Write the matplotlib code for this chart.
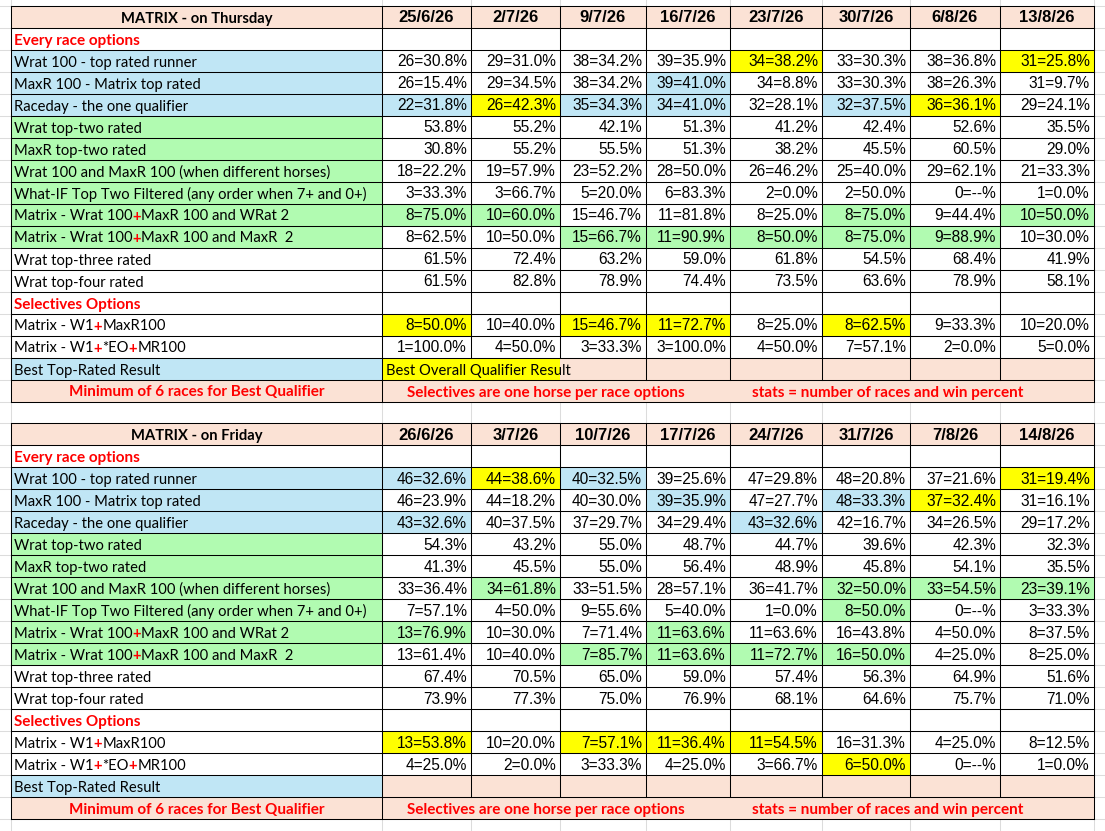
import matplotlib
matplotlib.use('Agg')
import matplotlib.pyplot as plt
from matplotlib.patches import Rectangle

# ---------------- data ----------------
thu_title = "MATRIX - on Thursday"
fri_title = "MATRIX - on Friday"
thu_dates = ["25/6/26", "2/7/26", "9/7/26", "16/7/26", "23/7/26", "30/7/26", "6/8/26", "13/8/26"]
fri_dates = ["26/6/26", "3/7/26", "10/7/26", "17/7/26", "24/7/26", "31/7/26", "7/8/26", "14/8/26"]

row_labels = [
    "Every race options",
    "Wrat 100 - top rated runner",
    "MaxR 100 - Matrix top rated",
    "Raceday - the one qualifier",
    "Wrat top-two rated",
    "MaxR top-two rated",
    "Wrat 100 and MaxR 100 (when different horses)",
    "What-IF Top Two Filtered (any order when 7+ and 0+)",
    "Matrix - Wrat 100+MaxR 100 and WRat 2",
    "Matrix - Wrat 100+MaxR 100 and MaxR  2",
    "Wrat top-three rated",
    "Wrat top-four rated",
    "Selectives Options",
    "Matrix - W1+MaxR100",
    "Matrix - W1+*EO+MR100",
    "Best Top-Rated Result",
]
section_rows = [0, 12]
footer_texts = ["Minimum of 6 races for Best Qualifier",
                "Selectives are one horse per race options",
                "stats = number of races and win percent"]
best_overall_text = "Best Overall Qualifier Result"

thu_wrat100 = ["26=30.8%", "29=31.0%", "38=34.2%", "39=35.9%", "34=38.2%", "33=30.3%", "38=36.8%", "31=25.8%"]
thu_maxr100 = ["26=15.4%", "29=34.5%", "38=34.2%", "39=41.0%", "34=8.8%", "33=30.3%", "38=26.3%", "31=9.7%"]
thu_raceday = ["22=31.8%", "26=42.3%", "35=34.3%", "34=41.0%", "32=28.1%", "32=37.5%", "36=36.1%", "29=24.1%"]
thu_wrat_top2 = ["53.8%", "55.2%", "42.1%", "51.3%", "41.2%", "42.4%", "52.6%", "35.5%"]
thu_maxr_top2 = ["30.8%", "55.2%", "55.5%", "51.3%", "38.2%", "45.5%", "60.5%", "29.0%"]
thu_both100 = ["18=22.2%", "19=57.9%", "23=52.2%", "28=50.0%", "26=46.2%", "25=40.0%", "29=62.1%", "21=33.3%"]
thu_whatif = ["3=33.3%", "3=66.7%", "5=20.0%", "6=83.3%", "2=0.0%", "2=50.0%", "0=--%", "1=0.0%"]
thu_mx_wrat2 = ["8=75.0%", "10=60.0%", "15=46.7%", "11=81.8%", "8=25.0%", "8=75.0%", "9=44.4%", "10=50.0%"]
thu_mx_maxr2 = ["8=62.5%", "10=50.0%", "15=66.7%", "11=90.9%", "8=50.0%", "8=75.0%", "9=88.9%", "10=30.0%"]
thu_top3 = ["61.5%", "72.4%", "63.2%", "59.0%", "61.8%", "54.5%", "68.4%", "41.9%"]
thu_top4 = ["61.5%", "82.8%", "78.9%", "74.4%", "73.5%", "63.6%", "78.9%", "58.1%"]
thu_w1_maxr = ["8=50.0%", "10=40.0%", "15=46.7%", "11=72.7%", "8=25.0%", "8=62.5%", "9=33.3%", "10=20.0%"]
thu_w1_eo = ["1=100.0%", "4=50.0%", "3=33.3%", "3=100.0%", "4=50.0%", "7=57.1%", "2=0.0%", "5=0.0%"]

fri_wrat100 = ["46=32.6%", "44=38.6%", "40=32.5%", "39=25.6%", "47=29.8%", "48=20.8%", "37=21.6%", "31=19.4%"]
fri_maxr100 = ["46=23.9%", "44=18.2%", "40=30.0%", "39=35.9%", "47=27.7%", "48=33.3%", "37=32.4%", "31=16.1%"]
fri_raceday = ["43=32.6%", "40=37.5%", "37=29.7%", "34=29.4%", "43=32.6%", "42=16.7%", "34=26.5%", "29=17.2%"]
fri_wrat_top2 = ["54.3%", "43.2%", "55.0%", "48.7%", "44.7%", "39.6%", "42.3%", "32.3%"]
fri_maxr_top2 = ["41.3%", "45.5%", "55.0%", "56.4%", "48.9%", "45.8%", "54.1%", "35.5%"]
fri_both100 = ["33=36.4%", "34=61.8%", "33=51.5%", "28=57.1%", "36=41.7%", "32=50.0%", "33=54.5%", "23=39.1%"]
fri_whatif = ["7=57.1%", "4=50.0%", "9=55.6%", "5=40.0%", "1=0.0%", "8=50.0%", "0=--%", "3=33.3%"]
fri_mx_wrat2 = ["13=76.9%", "10=30.0%", "7=71.4%", "11=63.6%", "11=63.6%", "16=43.8%", "4=50.0%", "8=37.5%"]
fri_mx_maxr2 = ["13=61.4%", "10=40.0%", "7=85.7%", "11=63.6%", "11=72.7%", "16=50.0%", "4=25.0%", "8=25.0%"]
fri_top3 = ["67.4%", "70.5%", "65.0%", "59.0%", "57.4%", "56.3%", "64.9%", "51.6%"]
fri_top4 = ["73.9%", "77.3%", "75.0%", "76.9%", "68.1%", "64.6%", "75.7%", "71.0%"]
fri_w1_maxr = ["13=53.8%", "10=20.0%", "7=57.1%", "11=36.4%", "11=54.5%", "16=31.3%", "4=25.0%", "8=12.5%"]
fri_w1_eo = ["4=25.0%", "2=0.0%", "3=33.3%", "4=25.0%", "3=66.7%", "6=50.0%", "0=--%", "1=0.0%"]

thu_values = [None, thu_wrat100, thu_maxr100, thu_raceday, thu_wrat_top2, thu_maxr_top2, thu_both100,
              thu_whatif, thu_mx_wrat2, thu_mx_maxr2, thu_top3, thu_top4, None, thu_w1_maxr, thu_w1_eo, None]
fri_values = [None, fri_wrat100, fri_maxr100, fri_raceday, fri_wrat_top2, fri_maxr_top2, fri_both100,
              fri_whatif, fri_mx_wrat2, fri_mx_maxr2, fri_top3, fri_top4, None, fri_w1_maxr, fri_w1_eo, None]

# highlighted cells: (row, column)
thu_yellow = [(1, 4), (1, 7), (3, 1), (3, 6), (13, 0), (13, 2), (13, 3), (13, 5)]
thu_blue = [(2, 3), (3, 0), (3, 2), (3, 3), (3, 5)]
thu_green = [(8, 0), (8, 1), (8, 5), (8, 7), (9, 2), (9, 3), (9, 4), (9, 5), (9, 6)]
fri_yellow = [(1, 1), (1, 7), (2, 6), (13, 0), (13, 2), (13, 3), (13, 4), (14, 5)]
fri_blue = [(1, 0), (1, 2), (2, 3), (2, 5), (3, 0), (3, 4)]
fri_green = [(6, 1), (6, 5), (6, 6), (6, 7), (7, 5), (8, 0), (8, 3), (9, 2), (9, 3), (9, 4), (9, 5)]

# ---------------- style ----------------
PEACH = "#FBE2D5"
BLUE = "#C0E6F5"
GREEN = "#B1FBB1"
YELLOW = "#FFFF00"
RED = "#FF0000"
GRID = "#DCDCDC"
label_fills = [None, BLUE, BLUE, BLUE, GREEN, GREEN, GREEN, GREEN, GREEN, GREEN,
               None, None, None, None, None, BLUE]

W, H = 1105, 831
fig = plt.figure(figsize=(W / 100, H / 100), dpi=100)
ax = fig.add_axes([0, 0, 1, 1])
ax.set_xlim(0, W)
ax.set_ylim(H, 0)
ax.axis('off')
fig.patch.set_facecolor('white')
renderer = fig.canvas.get_renderer()

LABEL_FONT = ['Lato', 'DejaVu Sans']
DATA_FONT = ['Liberation Sans', 'DejaVu Sans']


def text_width(s, **kw):
    t = ax.text(0, 0, s, **kw)
    w = t.get_window_extent(renderer=renderer).width
    t.remove()
    return w


base = 10.0
label_size = base * 351 / text_width(row_labels[7], family=LABEL_FONT, fontsize=base)
blabel_size = base * 257 / text_width(footer_texts[0], family=LABEL_FONT, fontsize=base, fontweight='bold')
data_size = 11.2
date_size = 12.0

col_edges = [10.7, 382, 471, 560, 646, 730, 822, 910, 1000, 1094]
ROW_H = 22.0
HEADER_H = 21.5
LW = 0.75

# spreadsheet gridlines
grid_rows = []
for y0 in (6.0, 423.3):
    grid_rows.append(y0)
    grid_rows.append(y0 + HEADER_H)
    for i in range(1, 18):
        grid_rows.append(y0 + HEADER_H + i * ROW_H)
for y in grid_rows:
    ax.plot([0, W], [y, y], color=GRID, lw=LW, zorder=0)
for x in col_edges:
    ax.plot([x, x], [0, H], color=GRID, lw=LW, zorder=0)


def rich(x, y, pieces, size):
    for txt, color, weight in pieces:
        t = ax.text(x, y, txt, color=color, fontweight=weight, fontsize=size,
                    family=LABEL_FONT, ha='left', va='baseline', zorder=5)
        x += t.get_window_extent(renderer=renderer).width


def label_pieces(s):
    if s.startswith("Matrix"):
        parts = s.split("+")
        out = []
        for k, p in enumerate(parts):
            if k:
                out.append(("+", RED, 'bold'))
            out.append((p, 'black', 'normal'))
        return out
    return [(s, 'black', 'normal')]


def rect(x0, x1, y0, y1, color):
    ax.add_patch(Rectangle((x0, y0), x1 - x0, y1 - y0, facecolor=color, edgecolor='none', zorder=1))


def draw_table(y0, title, dates, values, yellow, blue, green, best_merged):
    ncols = len(dates)
    left, right = col_edges[0], col_edges[-1]
    # header
    rect(left, right, y0, y0 + HEADER_H, PEACH)
    ax.text((col_edges[0] + col_edges[1]) / 2, y0 + HEADER_H - 5, title, family=LABEL_FONT,
            fontweight='bold', fontsize=label_size, ha='center', va='baseline', zorder=5)
    for c, d in enumerate(dates):
        ax.text((col_edges[c + 1] + col_edges[c + 2]) / 2, y0 + HEADER_H - 5, d, family=DATA_FONT,
                fontweight='bold', fontsize=date_size, ha='center', va='baseline', zorder=5)
    hlines = [y0, y0 + HEADER_H]
    vsegs = [(x, y0, y0 + HEADER_H) for x in col_edges]
    fills = {}
    for (r, c) in yellow:
        fills[(r, c)] = YELLOW
    for (r, c) in blue:
        fills[(r, c)] = BLUE
    for (r, c) in green:
        fills[(r, c)] = GREEN
    for i, lab in enumerate(row_labels):
        top = y0 + HEADER_H + i * ROW_H
        bot = top + ROW_H
        hlines.append(bot)
        base_y = bot - 5
        if label_fills[i]:
            rect(col_edges[0], col_edges[1], top, bot, label_fills[i])
        if i in section_rows:
            rich(col_edges[0] + 3.5, base_y, [(lab, RED, 'bold')], blabel_size)
        else:
            rich(col_edges[0] + 3.5, base_y, label_pieces(lab), label_size)
        skip = set()
        vals = values[i]
        if i == len(row_labels) - 1:
            # best result row
            for c in range(ncols):
                rect(col_edges[c + 1], col_edges[c + 2], top, bot, PEACH)
            if best_merged:
                rect(col_edges[1], col_edges[3], top, bot, YELLOW)
                ax.text(col_edges[1] + 4.5, base_y, best_overall_text, family=LABEL_FONT,
                        fontsize=label_size, ha='left', va='baseline', zorder=5)
                skip = {2, 3}
        elif vals is not None:
            for c, v in enumerate(vals):
                if (i, c) in fills:
                    rect(col_edges[c + 1], col_edges[c + 2], top, bot, fills[(i, c)])
                ax.text(col_edges[c + 2] - 4, base_y, v, family=DATA_FONT, fontsize=data_size,
                        ha='right', va='baseline', zorder=5)
        for k, x in enumerate(col_edges):
            if k not in skip:
                vsegs.append((x, top, bot))
    # footer row
    top = y0 + HEADER_H + len(row_labels) * ROW_H
    bot = top + ROW_H
    hlines.append(bot)
    rect(left, right, top, bot, PEACH)
    ax.text((col_edges[0] + col_edges[1]) / 2, bot - 5, footer_texts[0], family=LABEL_FONT, color=RED,
            fontweight='bold', fontsize=blabel_size, ha='center', va='baseline', zorder=5)
    ax.text(407, bot - 5, footer_texts[1], family=LABEL_FONT, color=RED, fontweight='bold',
            fontsize=blabel_size, ha='left', va='baseline', zorder=5)
    ax.text(752.5, bot - 5, footer_texts[2], family=LABEL_FONT, color=RED, fontweight='bold',
            fontsize=blabel_size, ha='left', va='baseline', zorder=5)
    for x in (col_edges[0], col_edges[1], col_edges[-1]):
        vsegs.append((x, top, bot))
    for y in hlines:
        ax.plot([left, right], [y, y], color='black', lw=LW, zorder=4, solid_capstyle='projecting')
    for x, a, b in vsegs:
        ax.plot([x, x], [a, b], color='black', lw=LW, zorder=4, solid_capstyle='projecting')


draw_table(6.0, thu_title, thu_dates, thu_values, thu_yellow, thu_blue, thu_green, True)
draw_table(423.3, fri_title, fri_dates, fri_values, fri_yellow, fri_blue, fri_green, False)

fig.savefig("out.png", dpi=100, facecolor='white')
